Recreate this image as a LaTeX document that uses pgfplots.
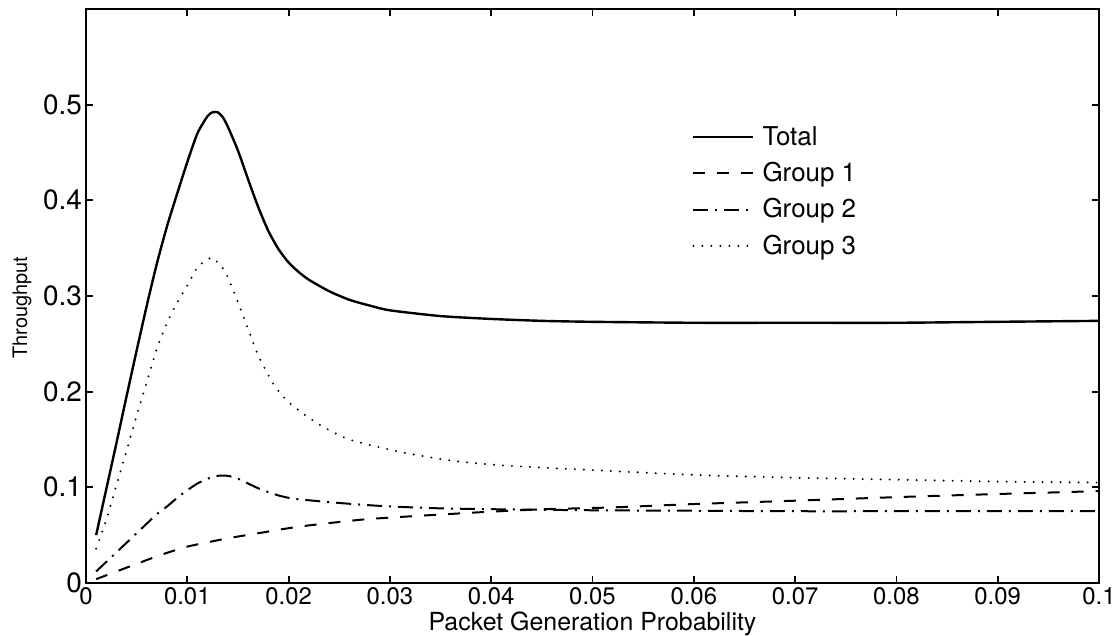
\documentclass[border=0pt]{standalone}
\usepackage{pgfplots}
\pgfplotsset{compat=1.18}
\usepackage{fontspec}
\setmainfont{TeX Gyre Heros}
\begin{document}
\begin{tikzpicture}
\begin{axis}[
  scale only axis,
  width=506.5bp, height=287bp,
  xmin=0, xmax=0.1, ymin=0, ymax=0.6,
  xtick={0,0.01,0.02,0.03,0.04,0.05,0.06,0.07,0.08,0.09,0.1},
  xticklabels={0,0.01,0.02,0.03,0.04,0.05,0.06,0.07,0.08,0.09,0.1},
  ytick={0,0.1,0.2,0.3,0.4,0.5},
  yticklabels={0,0.1,0.2,0.3,0.4,0.5},
  tick align=inside, tick pos=both,
  major tick length=3.5bp,
  axis line style={line width=1bp},
  every tick/.style={line width=0.9bp, black},
  /pgf/number format/assume math mode=true,
  xticklabel style={font=\fontsize{12}{13}\selectfont, yshift=1.2bp},
  yticklabel style={font=\fontsize{14}{15}\selectfont, xshift=1.5bp},
  xlabel={Packet Generation Probability},
  ylabel={Throughput},
  xlabel style={font=\fontsize{12.5}{14}\selectfont, at={(axis description cs:0.5,0)}, anchor=north, yshift=-14bp, inner sep=0.5bp},
  ylabel style={font=\fontsize{10}{11}\selectfont, at={(axis description cs:-0.0632,0.48)}, anchor=center},
  legend style={draw=none, fill=none, at={(0.598,0.80)}, anchor=north west, inner sep=0pt,
    font=\fontsize{13}{14}\selectfont, row sep=5bp, nodes={inner sep=1bp},
    /tikz/every odd column/.append style={column sep=3bp}},
  legend cell align=left,
  legend image code/.code={\draw[#1] (0bp,0bp) -- (30bp,0bp);},
  every axis plot/.append style={smooth, tension=0.4},
]
\addplot[black, line width=1.2bp] coordinates {
(0.001,0.050) (0.002,0.098) (0.003,0.146) (0.004,0.195) (0.005,0.243) (0.006,0.290)
(0.007,0.334) (0.008,0.373) (0.009,0.407) (0.010,0.440) (0.011,0.470) (0.012,0.488)
(0.0125,0.492) (0.013,0.492) (0.0135,0.487) (0.014,0.477) (0.015,0.452) (0.016,0.422)
(0.017,0.393) (0.018,0.368) (0.019,0.349) (0.020,0.335) (0.021,0.325) (0.022,0.317)
(0.024,0.305) (0.026,0.296) (0.028,0.290) (0.030,0.285) (0.035,0.279) (0.040,0.276)
(0.045,0.274) (0.050,0.273) (0.060,0.272) (0.070,0.272) (0.080,0.272) (0.090,0.273) (0.100,0.274)
};
\addlegendentry{Total}
\addplot[black, line width=1bp, dash pattern=on 6bp off 6bp] coordinates {
(0.001,0.004) (0.003,0.012) (0.005,0.020) (0.0073,0.029) (0.010,0.038) (0.0139,0.0465)
(0.017,0.052) (0.0211,0.059) (0.027,0.066) (0.031,0.069) (0.039,0.074) (0.045,0.077)
(0.052,0.079) (0.060,0.0825) (0.070,0.086) (0.0807,0.090) (0.090,0.093) (0.100,0.096)
};
\addlegendentry{Group 1}
\addplot[black, line width=1bp, dash pattern=on 7.5bp off 3.5bp on 1bp off 3.5bp] coordinates {
(0.001,0.012) (0.003,0.032) (0.005,0.052) (0.007,0.072) (0.008,0.080) (0.009,0.089)
(0.010,0.097) (0.011,0.104) (0.012,0.109) (0.013,0.112) (0.014,0.112) (0.015,0.109)
(0.016,0.104) (0.017,0.099) (0.018,0.095) (0.019,0.0915) (0.020,0.089) (0.021,0.0875)
(0.0238,0.0847) (0.027,0.082) (0.030,0.080) (0.035,0.078) (0.041,0.077) (0.050,0.076)
(0.060,0.0755) (0.070,0.075) (0.080,0.075) (0.090,0.075) (0.100,0.075)
};
\addlegendentry{Group 2}
\addplot[black, line width=1.1bp, line cap=round, dash pattern=on 0bp off 4.5bp] coordinates {
(0.001,0.036) (0.002,0.066) (0.003,0.102) (0.004,0.138) (0.005,0.175) (0.006,0.210)
(0.007,0.245) (0.008,0.272) (0.009,0.293) (0.010,0.311) (0.011,0.330) (0.012,0.338)
(0.0125,0.340) (0.013,0.335) (0.0137,0.326) (0.0145,0.307) (0.0157,0.274) (0.017,0.238)
(0.0185,0.208) (0.020,0.189) (0.0228,0.167) (0.026,0.150) (0.031,0.137) (0.036,0.128)
(0.041,0.123) (0.050,0.118) (0.060,0.113) (0.070,0.110) (0.080,0.108) (0.090,0.106) (0.100,0.105)
};
\addlegendentry{Group 3}
\end{axis}
\pgfresetboundingbox
\path (current axis.south west) ++(-43bp,-26.5bp) coordinate (bl);
\path (current axis.north east) ++(10.5bp,4.5bp) coordinate (tr);
\path[use as bounding box] (bl) rectangle (tr);
\end{tikzpicture}
\end{document}
